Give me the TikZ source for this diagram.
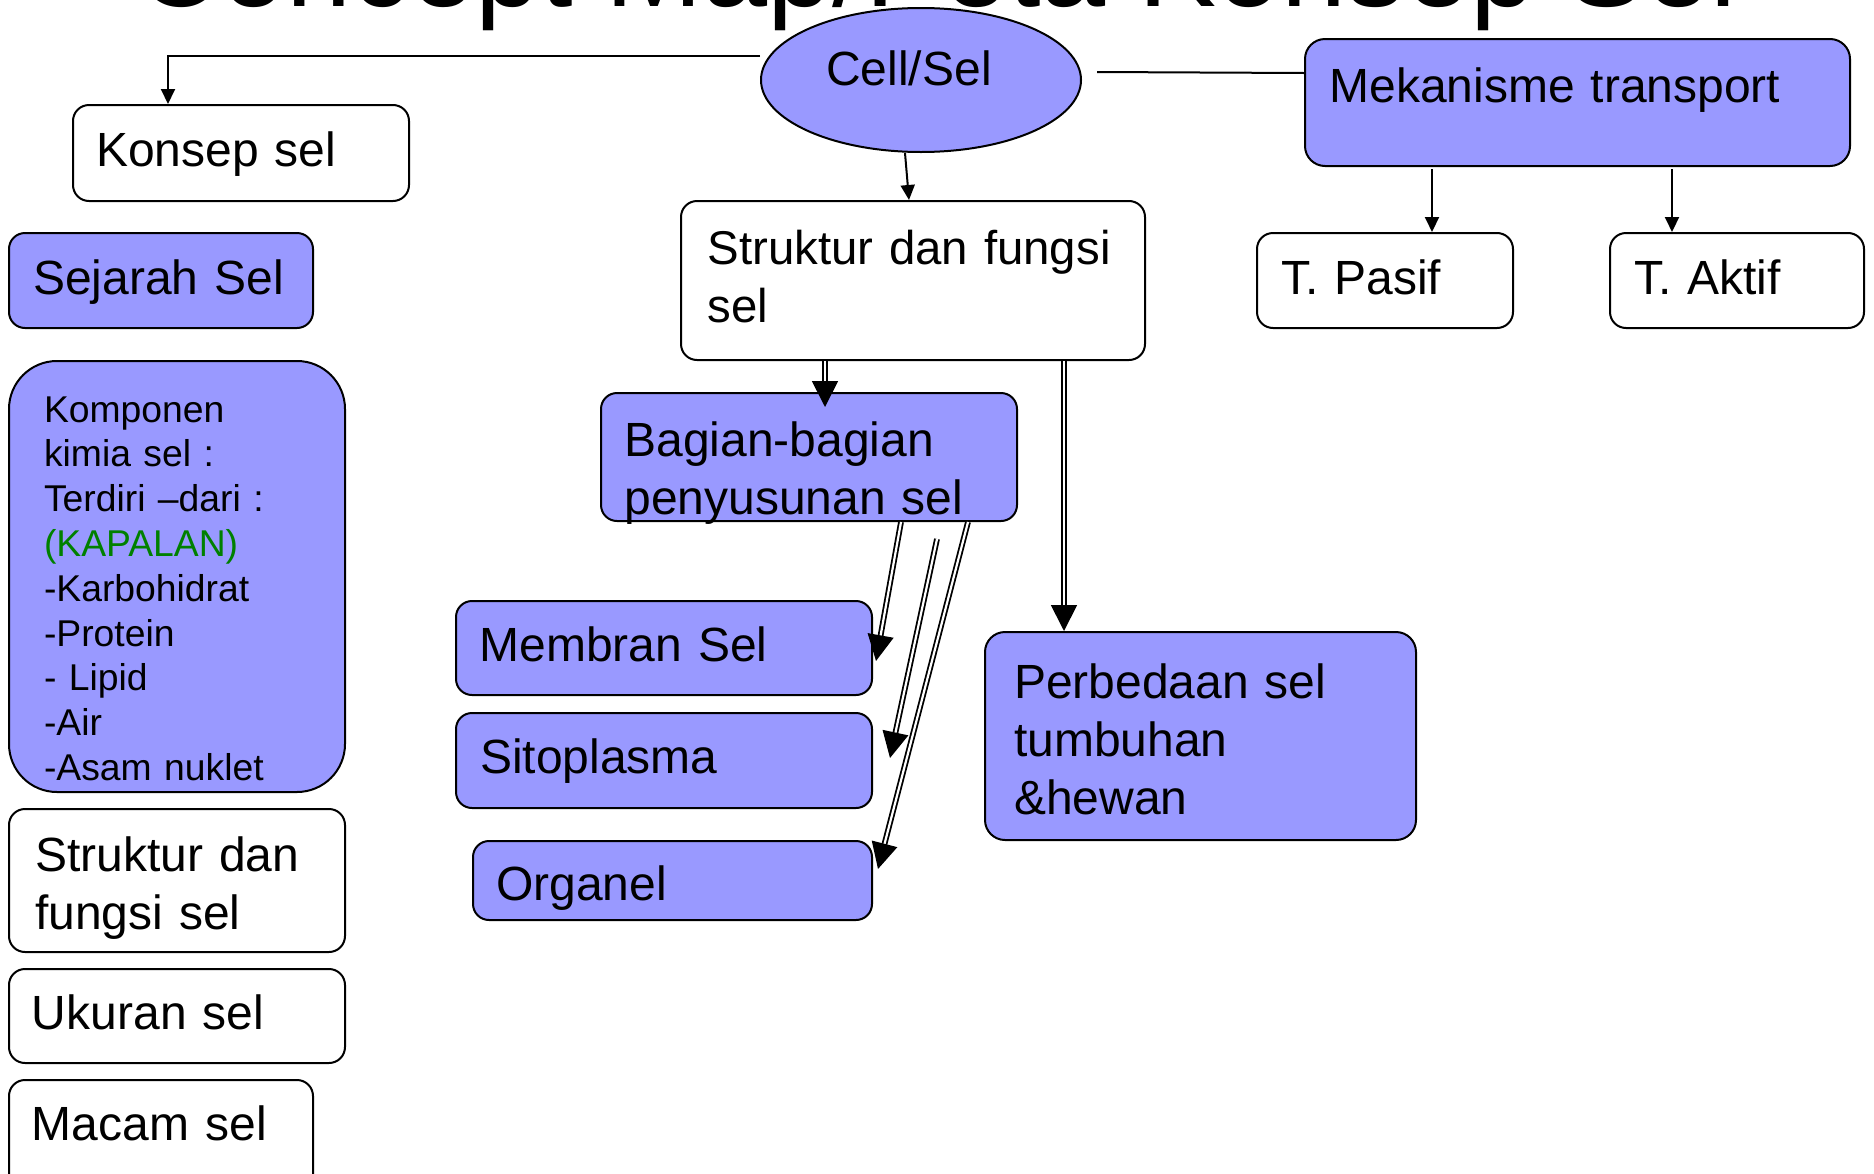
\documentclass[tikz,border=0pt]{standalone}
\usepackage{fontspec}
\setmainfont{Liberation Sans}
\usetikzlibrary{arrows.meta,shapes.geometric,calc}
\definecolor{cblue}{RGB}{153,153,255}
\definecolor{kgreen}{RGB}{0,128,0}
\begin{document}
\begin{tikzpicture}[x=0.5pt,y=-0.5pt,
  box/.style={draw, line width=1pt, rounded corners=8pt, anchor=north west, align=left,
    inner ysep=0pt, font=\fontsize{24pt}{29pt}\selectfont},
  bfill/.style={fill=cblue},
  wfill/.style={fill=white},
  arr/.style={draw, line width=1pt, -{Triangle[width=7pt,length=7.5pt]}},
  darr/.style={draw, line width=0.9pt, double, double distance=1.1pt, -{Triangle[width=13pt,length=13pt]}},
  ln/.style={draw, line width=1pt}]
\useasboundingbox (0,0) rectangle (1874,1173);
\clip (0,0) rectangle (1874,1173);

% title (cut off at top)
\node[anchor=base, inner sep=0pt, font=\fontsize{58.5pt}{70pt}\selectfont] (title) at (937,6) {Concept Map/Peta Konsep Sel};

% central ellipse
\node[ellipse, draw, line width=1pt, fill=cblue, minimum width=160pt, minimum height=72pt, inner sep=0pt,
  font=\fontsize{24pt}{29pt}\selectfont, text height=15pt, text depth=10pt] (cell) at (921,80) {Cell/Sel\hspace*{12pt}};

% left column
\node[box,wfill,minimum width=168pt,minimum height=48pt,inner xsep=11.5pt,text width=145pt,text height=28.5pt,text depth=15.5pt] (konsep) at (72,104) {Konsep sel};
\node[box,bfill,minimum width=152pt,minimum height=47.5pt,inner xsep=12pt,text width=128pt,text height=28.5pt,text depth=15pt] (sejarah) at (8,232) {Sejarah Sel};
\node[box,bfill,rounded corners=24pt,minimum width=168pt,minimum height=215.5pt,inner xsep=17.5pt,text width=133pt,text height=28.5pt,text depth=183pt,
  font=\fontsize{18.65pt}{22.4pt}\selectfont] (komponen) at (8,360)
  {Komponen\\kimia sel :\\Terdiri –dari :\\\textcolor{kgreen}{(KAPALAN)}\\-Karbohidrat\\-Protein\\- Lipid\\-Air\\-Asam nuklet};
\node[box,wfill,minimum width=168pt,minimum height=71.5pt,inner xsep=13pt,text width=142pt,text height=29pt,text depth=38.5pt] (sfl) at (8,808) {Struktur dan\\fungsi sel};
\node[box,wfill,minimum width=168pt,minimum height=47pt,inner xsep=11.5pt,text width=145pt,text height=28pt,text depth=15pt] (ukuran) at (8,968) {Ukuran sel};
\node[box,wfill,minimum width=152pt,minimum height=55.5pt,inner xsep=11.5pt,text width=129pt,text height=28pt,text depth=23.5pt] (macam) at (8,1079) {Macam sel};

% centre
\node[box,wfill,minimum width=232pt,minimum height=79.5pt,inner xsep=13.25pt,text width=205.5pt,text height=29.5pt,text depth=46pt,
  font=\fontsize{23.7pt}{29pt}\selectfont] (sfc) at (680,200) {Struktur dan fungsi\\sel};
\node[box,bfill,minimum width=208pt,minimum height=64pt,inner xsep=11.75pt,text width=184.5pt,text height=29.5pt,text depth=30.5pt] (bagian) at (600,392) {Bagian-bagian\\penyusunan sel};
\node[box,bfill,minimum width=208pt,minimum height=47pt,inner xsep=11.75pt,text width=184.5pt,text height=28pt,text depth=15pt] (membran) at (455,600) {Membran Sel};
\node[box,bfill,minimum width=208pt,minimum height=47.5pt,inner xsep=12pt,text width=184pt,text height=28pt,text depth=15.5pt] (sitoplasma) at (455,712) {Sitoplasma};
\node[box,bfill,minimum width=199.5pt,minimum height=39.5pt,inner xsep=11.5pt,text width=176.5pt,text height=27.5pt,text depth=8pt] (organel) at (472,840) {Organel};
\node[box,bfill,rounded corners=10pt,minimum width=215.5pt,minimum height=104pt,inner xsep=14.5pt,text width=186.5pt,text height=31pt,text depth=69pt] (perbedaan) at (984,631) {Perbedaan sel\\tumbuhan\\\&hewan};

% right
\node[box,bfill,rounded corners=10pt,minimum width=272.5pt,minimum height=63.5pt,inner xsep=12.25pt,text width=248pt,text height=29.5pt,text depth=30pt] (mek) at (1304,38) {Mekanisme transport};
\node[box,wfill,minimum width=128pt,minimum height=47.5pt,inner xsep=12pt,text width=104pt,text height=28.5pt,text depth=15pt] (pasif) at (1256,232) {T. Pasif};
\node[box,wfill,minimum width=127pt,minimum height=47.5pt,inner xsep=12pt,text width=103pt,text height=28.5pt,text depth=15pt] (aktif) at (1609,232) {T. Aktif};

% connectors
\draw[arr] ([yshift=12pt]cell.west) -| ([xshift=48pt]konsep.north west);
\draw[arr] ([xshift=-8pt]cell.south) -- ([xshift=114.5pt]sfc.north west);
\draw[ln] ([xshift=7.5pt,yshift=4pt]cell.east) -- ([yshift=14.75pt]mek.west);
\draw[arr] ([xshift=64pt,yshift=-1pt]mek.south west) -- ([xshift=88pt]pasif.north west);
\draw[arr] ([xshift=184pt,yshift=-1pt]mek.south west) -- ([xshift=31.5pt]aktif.north west);

\draw[darr] ([xshift=72.5pt]sfc.south west) -- ([xshift=112.5pt,yshift=-7.5pt]bagian.north west);
\draw[darr] ([xshift=192pt]sfc.south west) -- ([xshift=40pt]perbedaan.north west);
\draw[darr] ([xshift=150.5pt]bagian.south west) -- ([xshift=1.5pt,yshift=-30.5pt]membran.north east);
\draw[darr] ([xshift=168.5pt,yshift=-8.5pt]bagian.south west) -- ([xshift=8.5pt,yshift=-23pt]sitoplasma.north east);
\draw[darr] ([xshift=184pt]bagian.south west) -- ([xshift=2.5pt,yshift=-14.5pt]organel.north east);
\end{tikzpicture}
\end{document}
